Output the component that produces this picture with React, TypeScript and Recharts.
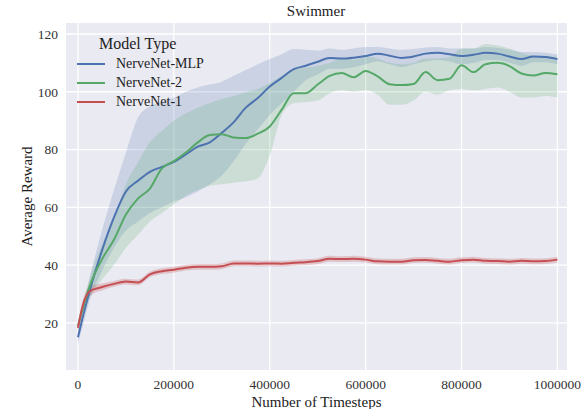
import {
  ComposedChart,
  Line,
  Area,
  XAxis,
  YAxis,
  CartesianGrid,
  Label,
} from 'recharts';

const timesteps = [
  0, 10000, 25000, 50000, 75000, 100000, 125000, 150000, 175000, 200000,
  225000, 250000, 275000, 300000, 325000, 350000, 375000, 400000, 425000, 450000,
  475000, 500000, 525000, 550000, 575000, 600000, 625000, 650000, 675000, 700000,
  725000, 750000, 775000, 800000, 825000, 850000, 875000, 900000, 925000, 950000,
  975000, 1000000,
];

const mlpMean = [
  15, 22, 31.5, 45, 56.5, 65.5, 69.2, 72.3, 74, 75.7,
  78.3, 81, 82.5, 85.8, 89.5, 94.5, 97.8, 101.8, 104.8, 107.8,
  109, 110.4, 111.7, 111.5, 111.8, 112.4, 113.2, 112.5, 111.7, 112.2,
  113.2, 113.5, 113, 112.4, 112.8, 113.5, 113.2, 112.2, 111.3, 112.2,
  112, 111.3,
];
const mlpLow = [
  12.5, 19, 28, 38, 46, 52, 55, 58, 60, 62,
  63.5, 65.5, 68, 71, 76, 82, 87, 92, 96, 100,
  104, 106, 108, 108, 108.5, 109.5, 110.5, 109.5, 108.5, 109.5,
  110.5, 111, 110.5, 109.5, 110, 111, 111, 110, 109, 110.2,
  110.2, 109.5,
];
const mlpHigh = [
  17, 25, 36, 52, 66, 79, 91, 95, 96.5, 98,
  100, 101.5, 102.5, 103.5, 105.5, 107.5, 109.5, 111.3, 113, 114.8,
  114.5, 114.2, 115, 114.5, 115, 115.5, 115.5, 115, 114.5, 114.8,
  115.3, 115.5, 115, 115, 115, 115.5, 115.2, 114.5, 113.8, 113.8,
  113.5, 113,
];

const nn2Mean = [
  19, 25, 33, 42, 48.8, 57.5, 63, 66.5, 73.5, 76,
  79, 82.5, 85, 85.3, 84.2, 84, 85.5, 88, 93.8, 99.5,
  99.5, 102.5, 105.5, 106.5, 105, 107.2, 105.3, 102.6, 102.3, 102.7,
  106.8, 104, 104.5, 109.2, 106.8, 109.5, 110, 108.9, 106.3, 105.6,
  106.5, 106.1,
];
const nn2Low = [
  17, 22, 29, 35, 40, 46, 50.5, 55, 58, 61,
  64, 66, 67.5, 68, 68.5, 69, 70, 78, 92, 96,
  96.5, 97, 99.5, 100.5, 100, 100.5, 99, 95.5, 95.5, 97,
  100, 99, 100.5, 101, 100.5, 101, 101.5, 100, 98, 98,
  98.5, 98,
];
const nn2High = [
  21, 27, 36, 47, 56, 68, 75.5, 82.5, 86.5, 90,
  92.5, 94.5, 96, 97.5, 98.5, 99.8, 101, 103, 105.5, 107.8,
  108.3, 108.9, 110, 111.5, 111, 112, 111.5, 110, 109.5, 110,
  111.5, 111.5, 112, 115, 115, 116.5, 116, 115, 113.5, 112.5,
  112.5, 112,
];

const nn1Mean = [
  18.3, 26, 31, 32.4, 33.5, 34.3, 34, 36.8, 37.9, 38.4,
  39.1, 39.4, 39.4, 39.6, 40.6, 40.6, 40.5, 40.6, 40.5, 40.8,
  41, 41.4, 42.2, 42.1, 42.2, 41.9, 41.3, 41.2, 41.2, 41.7,
  41.8, 41.5, 41.2, 41.7, 41.9, 41.5, 41.4, 41.2, 41.5, 41.3,
  41.4, 41.9,
];
const nn1Spread = [
  1.5, 1.8, 1.6, 1.2, 1, 1, 1, 1, 1, 1,
  1, 1, 1, 1, 1, 1, 1, 1, 1, 1,
  1, 1, 1, 1, 1, 1, 1, 1, 1, 1,
  1, 1, 1, 1, 1, 1, 1, 1, 1, 1,
  1, 1,
];

const xTicks = [0, 200000, 400000, 600000, 800000, 1000000];
const yTicks = [20, 40, 60, 80, 100, 120];

const seriesNames = ['NerveNet-MLP', 'NerveNet-2', 'NerveNet-1'];
const seriesColors = ['#4C72B0', '#55A868', '#C44E52'];

const rows = timesteps.map((t, i) => ({
  t,
  mlp: mlpMean[i],
  mlpBand: [mlpLow[i], mlpHigh[i]],
  nn2: nn2Mean[i],
  nn2Band: [nn2Low[i], nn2High[i]],
  nn1: nn1Mean[i],
  nn1Band: [nn1Mean[i] - nn1Spread[i], nn1Mean[i] + nn1Spread[i]],
}));

const font = '"Liberation Serif", "Times New Roman", serif';

export default function App() {
  return (
    <div
      style={{
        position: 'absolute',
        left: 0,
        top: 0,
        width: 582,
        height: 409,
        background: '#fff',
        fontFamily: font,
      }}
    >
      <div
        style={{
          position: 'absolute',
          left: 0,
          width: 582,
          top: 3,
          textAlign: 'center',
          fontSize: 15,
          color: '#222',
          paddingLeft: 50,
          boxSizing: 'border-box',
        }}
      >
        Swimmer
      </div>

      <ComposedChart
        width={582}
        height={409}
        data={rows}
        margin={{ top: 23, right: 15, bottom: 0, left: 0 }}
      >
        <CartesianGrid
          fill="#EAEAF2"
          stroke="#ffffff"
          strokeWidth={1.3}
          horizontalValues={yTicks}
          verticalValues={xTicks}
        />
        <XAxis
          dataKey="t"
          type="number"
          domain={[-25000, 1020000]}
          ticks={xTicks}
          allowDataOverflow
          axisLine={false}
          tickLine={false}
          tickSize={0}
          tickMargin={9}
          height={39}
          tick={{ fill: '#333', fontSize: 13.5, fontFamily: font }}
        >
          <Label
            value="Number of Timesteps"
            position="insideBottom"
            offset={2}
            style={{ fill: '#222', fontSize: 15, fontFamily: font }}
          />
        </XAxis>
        <YAxis
          type="number"
          domain={[3.7, 123.8]}
          ticks={yTicks}
          allowDataOverflow
          axisLine={false}
          tickLine={false}
          tickSize={0}
          tickMargin={8}
          width={66}
          tick={{ fill: '#333', fontSize: 13.5, fontFamily: font }}
        >
          <Label
            value="Average Reward"
            angle={-90}
            position="insideLeft"
            offset={27}
            style={{ fill: '#222', fontSize: 15, fontFamily: font, textAnchor: 'middle' }}
          />
        </YAxis>

        <Area
          type="monotone"
          dataKey="mlpBand"
          stroke="none"
          fill={seriesColors[0]}
          fillOpacity={0.2}
          isAnimationActive={false}
          legendType="none"
        />
        <Area
          type="monotone"
          dataKey="nn2Band"
          stroke="none"
          fill={seriesColors[1]}
          fillOpacity={0.2}
          isAnimationActive={false}
          legendType="none"
        />
        <Area
          type="monotone"
          dataKey="nn1Band"
          stroke="none"
          fill={seriesColors[2]}
          fillOpacity={0.25}
          isAnimationActive={false}
          legendType="none"
        />

        <Line
          type="monotone"
          dataKey="mlp"
          stroke={seriesColors[0]}
          strokeWidth={2}
          dot={false}
          isAnimationActive={false}
        />
        <Line
          type="monotone"
          dataKey="nn2"
          stroke={seriesColors[1]}
          strokeWidth={2}
          dot={false}
          isAnimationActive={false}
        />
        <Line
          type="monotone"
          dataKey="nn1"
          stroke={seriesColors[2]}
          strokeWidth={2}
          dot={false}
          isAnimationActive={false}
        />
      </ComposedChart>

      <div
        style={{
          position: 'absolute',
          left: 77,
          top: 34,
          color: '#222',
        }}
      >
        <div style={{ fontSize: 16, marginLeft: 22, lineHeight: '20px' }}>
          Model Type
        </div>
        {seriesNames.map((name, i) => (
          <div
            key={name}
            style={{
              display: 'flex',
              alignItems: 'center',
              height: 19,
              fontSize: 14,
            }}
          >
            <span
              style={{
                display: 'inline-block',
                width: 28,
                height: 2,
                background: seriesColors[i],
                marginRight: 11,
              }}
            />
            {name}
          </div>
        ))}
      </div>
    </div>
  );
}
